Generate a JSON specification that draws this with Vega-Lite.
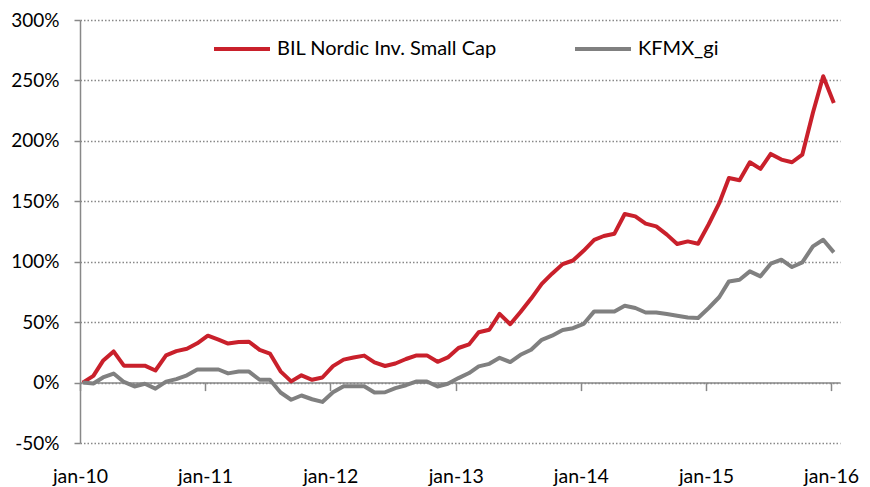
{
  "$schema": "https://vega.github.io/schema/vega-lite/v6.json",
  "width": 760,
  "height": 423,
  "autosize": {"type": "none"},
  "padding": {"left": 80, "top": 20, "right": 30, "bottom": 44},
  "config": {"font": "Lato", "view": {"stroke": null}, "axis": {"labelFont": "Lato", "labelColor": "#000"}},
  "data": {"values": [
    {"d": "2010-01-09", "a": 0, "b": 0},
    {"d": "2010-02-09", "a": 5.5, "b": -0.8},
    {"d": "2010-03-09", "a": 18, "b": 4.2},
    {"d": "2010-04-09", "a": 25.8, "b": 7.5},
    {"d": "2010-05-09", "a": 14, "b": 0.5},
    {"d": "2010-06-09", "a": 14, "b": -3.2},
    {"d": "2010-07-09", "a": 14, "b": -1},
    {"d": "2010-08-09", "a": 10, "b": -5},
    {"d": "2010-09-09", "a": 22.5, "b": 0.8},
    {"d": "2010-10-09", "a": 26, "b": 2.9},
    {"d": "2010-11-09", "a": 28, "b": 6},
    {"d": "2010-12-09", "a": 32.5, "b": 10.9},
    {"d": "2011-01-09", "a": 38.8, "b": 10.9},
    {"d": "2011-02-09", "a": 35.5, "b": 10.8},
    {"d": "2011-03-09", "a": 32.3, "b": 7.6},
    {"d": "2011-04-09", "a": 33.5, "b": 9.1},
    {"d": "2011-05-09", "a": 33.8, "b": 9.1},
    {"d": "2011-06-09", "a": 27, "b": 2.3},
    {"d": "2011-07-09", "a": 24, "b": 2.3},
    {"d": "2011-08-09", "a": 9.3, "b": -8.2},
    {"d": "2011-09-09", "a": 1, "b": -14.2},
    {"d": "2011-10-09", "a": 6, "b": -10.7},
    {"d": "2011-11-09", "a": 2.3, "b": -13.8},
    {"d": "2011-12-09", "a": 4.2, "b": -16},
    {"d": "2012-01-09", "a": 13.6, "b": -8},
    {"d": "2012-02-09", "a": 19, "b": -3},
    {"d": "2012-03-09", "a": 20.8, "b": -3},
    {"d": "2012-04-09", "a": 22.3, "b": -3},
    {"d": "2012-05-09", "a": 16.7, "b": -8.2},
    {"d": "2012-06-09", "a": 13.7, "b": -8},
    {"d": "2012-07-09", "a": 15.8, "b": -4.6},
    {"d": "2012-08-09", "a": 19.5, "b": -2.2},
    {"d": "2012-09-09", "a": 22.5, "b": 0.9},
    {"d": "2012-10-09", "a": 22.5, "b": 0.9},
    {"d": "2012-11-09", "a": 17.2, "b": -3.2},
    {"d": "2012-12-09", "a": 20.8, "b": -1},
    {"d": "2013-01-09", "a": 28.6, "b": 3.7},
    {"d": "2013-02-09", "a": 31.6, "b": 7.9},
    {"d": "2013-03-09", "a": 41.6, "b": 13.4},
    {"d": "2013-04-09", "a": 43.7, "b": 15.5},
    {"d": "2013-05-09", "a": 56.8, "b": 20.5},
    {"d": "2013-06-09", "a": 48.3, "b": 17},
    {"d": "2013-07-09", "a": 58.4, "b": 23},
    {"d": "2013-08-09", "a": 69.5, "b": 27.2},
    {"d": "2013-09-09", "a": 81.7, "b": 35.4},
    {"d": "2013-10-09", "a": 90.1, "b": 38.8},
    {"d": "2013-11-09", "a": 98, "b": 43.5},
    {"d": "2013-12-09", "a": 101, "b": 45},
    {"d": "2014-01-09", "a": 109, "b": 48.5},
    {"d": "2014-02-09", "a": 118, "b": 58.9},
    {"d": "2014-03-09", "a": 121.3, "b": 58.9},
    {"d": "2014-04-09", "a": 123.2, "b": 58.9},
    {"d": "2014-05-09", "a": 139.5, "b": 63.6},
    {"d": "2014-06-09", "a": 137.5, "b": 61.7},
    {"d": "2014-07-09", "a": 131.5, "b": 58},
    {"d": "2014-08-09", "a": 129.2, "b": 58},
    {"d": "2014-09-09", "a": 122.4, "b": 56.7},
    {"d": "2014-10-09", "a": 114.7, "b": 55.3},
    {"d": "2014-11-09", "a": 116.8, "b": 53.9},
    {"d": "2014-12-09", "a": 114.9, "b": 53.5},
    {"d": "2015-01-09", "a": 131, "b": 61.7},
    {"d": "2015-02-09", "a": 148.6, "b": 70.8},
    {"d": "2015-03-09", "a": 169.3, "b": 83.7},
    {"d": "2015-04-09", "a": 167.4, "b": 85.1},
    {"d": "2015-05-09", "a": 182.3, "b": 92},
    {"d": "2015-06-09", "a": 176.8, "b": 87.9},
    {"d": "2015-07-09", "a": 189.2, "b": 98.4},
    {"d": "2015-08-09", "a": 184.5, "b": 101.7},
    {"d": "2015-09-09", "a": 182.3, "b": 95.6},
    {"d": "2015-10-09", "a": 188.6, "b": 99.4},
    {"d": "2015-11-09", "a": 223.2, "b": 112.7},
    {"d": "2015-12-09", "a": 253.5, "b": 118.2},
    {"d": "2016-01-09", "a": 231.4, "b": 107.7}
  ]},
  "transform": [{"fold": ["a", "b"], "as": ["k", "v"]}],
  "layer": [
    {
      "mark": {"type": "line", "strokeWidth": 4, "strokeJoin": "round"},
      "encoding": {
        "x": {
          "field": "d", "type": "temporal",
          "scale": {"domain": [{"year": 2010, "month": 1, "date": 1}, {"year": 2016, "month": 1, "date": 27}]},
          "axis": {"orient": "bottom", "title": null, "domain": false, "ticks": false, "tickSize": 0, "grid": false,
                   "tickCount": {"interval": "year", "step": 1},
                   "labelExpr": "lower(timeFormat(datum.value, '%b')) + '-' + timeFormat(datum.value, '%y')",
                   "labelFontSize": 19.5, "labelPadding": 24, "labelDx": 5, "labelFlush": false, "labelOverlap": false, "zindex": 0}
        },
        "y": {
          "field": "v", "type": "quantitative",
          "scale": {"domain": [-50, 300], "nice": false, "zero": false},
          "axis": {"title": null, "values": [-50, 0, 50, 100, 150, 200, 250, 300],
                   "labelExpr": "datum.value + '%'", "labelFontSize": 19, "labelPadding": 15,
                   "tickSize": 6, "tickColor": "#888", "tickWidth": 1.5,
                   "domainColor": "#888", "domainWidth": 1.5,
                   "grid": true, "gridColor": "#888", "gridDash": [1.5, 2], "gridWidth": 1.3, "zindex": 0}
        },
        "color": {
          "field": "k", "type": "nominal",
          "scale": {"domain": ["a", "b"], "range": ["#C9202B", "#808080"]},
          "legend": {"orient": "none", "legendX": 132, "legendY": -1, "direction": "horizontal", "title": null,
                     "symbolType": "stroke", "symbolSize": 3136, "symbolStrokeWidth": 4,
                     "labelFontSize": 20, "labelLimit": 400, "labelOffset": 5, "columnPadding": 70, "padding": 0,
                     "labelColor": "#000",
                     "labelExpr": "datum.value == 'a' ? 'BIL Nordic Inv. Small Cap' : 'KFMX_gi'"}
        }
      }
    },
    {
      "mark": {"type": "rule", "opacity": 0},
      "encoding": {
        "x": {
          "field": "d", "type": "temporal",
          "axis": {"orient": "bottom", "offset": -60.4, "title": null, "labels": false, "grid": false,
                   "domain": true, "domainColor": "#888", "domainWidth": 1.5,
                   "ticks": true, "tickSize": 8, "tickColor": "#888", "tickWidth": 1.5,
                   "tickCount": {"interval": "year", "step": 1}, "zindex": 0}
        }
      }
    }
  ],
  "resolve": {"axis": {"x": "independent"}}
}
